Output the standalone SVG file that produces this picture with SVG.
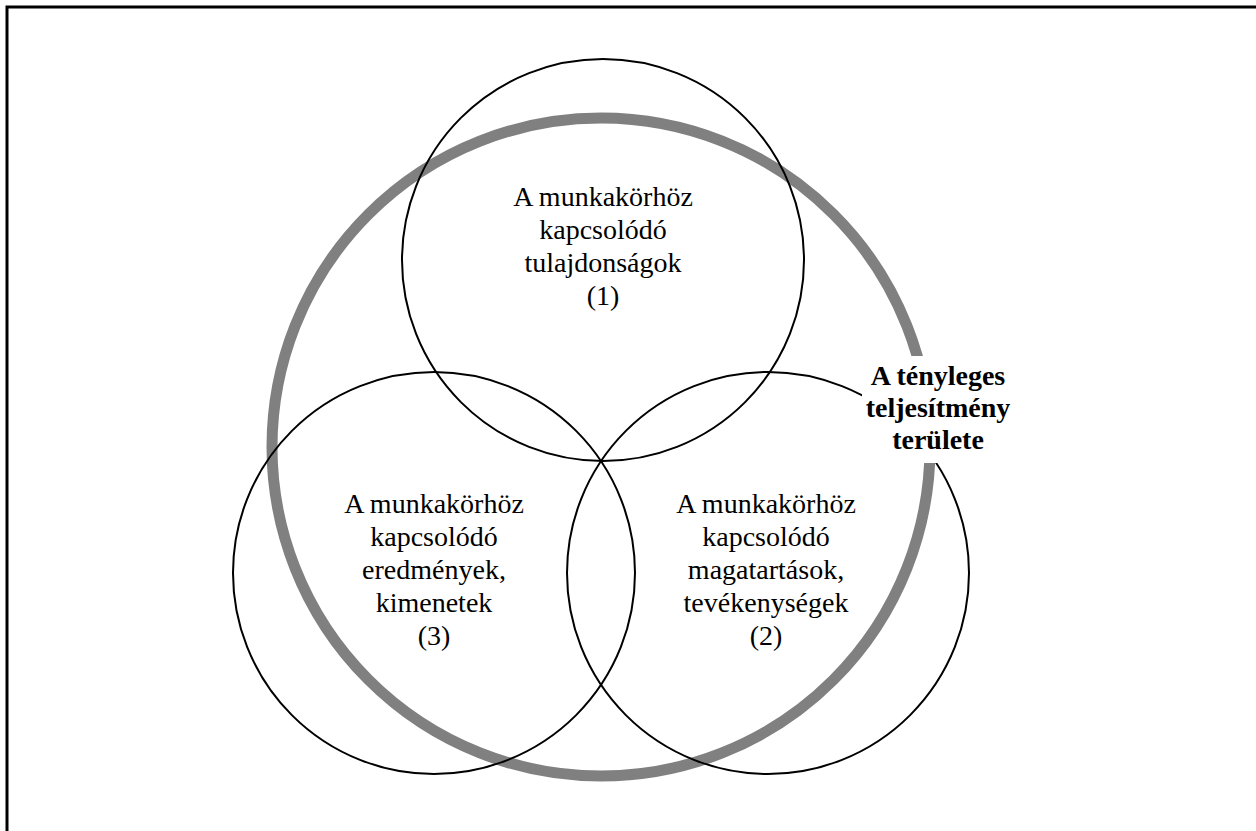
<svg xmlns="http://www.w3.org/2000/svg" width="1256" height="831" viewBox="0 0 1256 831">
  <style>
    .ring { fill: none; stroke: #808080; stroke-width: 11; }
    .circ { fill: none; stroke: #000; stroke-width: 2; }
    .t { font-family: "Liberation Serif", "Times New Roman", serif; font-size: 28px; fill: #000; text-anchor: middle; }
    .b { font-weight: bold; }
  </style>
  <rect width="1256" height="831" fill="#fff"/>
  <path d="M7,831 V7 H1256" fill="none" stroke="#000" stroke-width="3"/>
  <g id="area">
    <circle class="ring" cx="601" cy="447" r="329"/>
  </g>
  <g id="node1">
    <circle class="circ" cx="603" cy="260" r="201"/>
    <text class="t" x="603" y="206">A munkakörhöz</text>
    <text class="t" x="603" y="239">kapcsolódó</text>
    <text class="t" x="603" y="272">tulajdonságok</text>
    <text class="t" x="603" y="305">(1)</text>
  </g>
  <g id="node3">
    <circle class="circ" cx="434" cy="573" r="201"/>
    <text class="t" x="434" y="513">A munkakörhöz</text>
    <text class="t" x="434" y="546">kapcsolódó</text>
    <text class="t" x="434" y="579">eredmények,</text>
    <text class="t" x="434" y="612">kimenetek</text>
    <text class="t" x="434" y="645">(3)</text>
  </g>
  <g id="node2">
    <circle class="circ" cx="768" cy="573" r="201"/>
    <text class="t" x="766" y="513">A munkakörhöz</text>
    <text class="t" x="766" y="546">kapcsolódó</text>
    <text class="t" x="766" y="579">magatartások,</text>
    <text class="t" x="766" y="612">tevékenységek</text>
    <text class="t" x="766" y="645">(2)</text>
  </g>
  <g id="label">
    <rect x="862" y="356" width="152" height="107" fill="#fff"/>
    <text class="t b" x="938" y="385">A tényleges</text>
    <text class="t b" x="938" y="417">teljesítmény</text>
    <text class="t b" x="938" y="449">területe</text>
  </g>
  <g id="connectors"/>
</svg>
